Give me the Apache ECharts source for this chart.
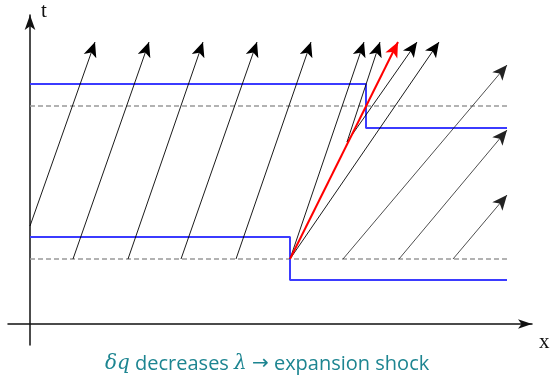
<!DOCTYPE html>
<html>
<head>
<meta charset="utf-8">
<script src="https://cdn.jsdelivr.net/npm/echarts@6/dist/echarts.min.js"></script>
<style>
  html, body { margin: 0; padding: 0; background: #fff; }
  #main { width: 550px; height: 376px; }
</style>
</head>
<body>
<div id="main"></div>
<script>
  // x along the axis, t upward; shock starts at x=260, t=65
  var upperState = [[0, 240], [336, 240], [336, 196], [477, 196]];
  var lowerState = [[0, 87], [260, 87], [260, 44], [477, 44]];
  var dashLevels = [218, 65];
  var dashEnd = 477;

  var leftChars = [
    [[0, 98], [65, 282]],
    [[43, 65], [119, 282]],
    [[98, 65], [173, 282]],
    [[151, 65], [227, 282]],
    [[206, 65], [281, 282]]
  ];
  var fanChars = [
    [[260, 65], [334, 282]],
    [[260, 65], [409, 282]],
    [[317, 182], [350, 282]],
    [[317, 182], [387, 282]]
  ];
  var shockPath = [[[260, 65], [368, 282]]];
  var rightChars = [
    [[313, 65], [477, 259]],
    [[369, 65], [477, 194]],
    [[423, 65], [477, 129]]
  ];

  var myChart = echarts.init(document.getElementById('main'));

  function arrows(name, list, color, width) {
    return {
      name: name,
      type: 'lines',
      coordinateSystem: 'cartesian2d',
      symbol: ['none', 'arrow'],
      symbolSize: [0, [10, 15]],
      symbolOffset: [0, [0, '50%']],
      lineStyle: { color: color, width: width, opacity: 1, curveness: 0 },
      silent: true,
      z: 3,
      data: list.map(function (c) { return { coords: c }; })
    };
  }

  var dashData = dashLevels.map(function (t) {
    return { coords: [[0, t], [dashEnd, t]] };
  });

  var option = {
    animation: false,
    grid: { left: 8, right: 18, top: 15, bottom: 31 },
    title: {
      text: '{i|δq} decreases {i|λ} {a|→} expansion shock',
      left: 100,
      top: 349,
      textStyle: {
        fontFamily: 'Open Sans',
        fontSize: 20,
        fontWeight: 'normal',
        color: '#1d8591',
        rich: {
          i: { fontFamily: 'DejaVu Serif', fontStyle: 'italic', fontSize: 20, color: '#1d8591' },
          a: { fontFamily: 'DejaVu Sans', fontSize: 20, color: '#1d8591' }
        }
      }
    },
    xAxis: {
      type: 'value',
      min: -22,
      max: 502,
      axisLine: {
        onZero: true,
        symbol: ['none', 'arrow'],
        symbolSize: [7, 14],
        lineStyle: { color: '#111', width: 1.5 }
      },
      axisTick: { show: false },
      axisLabel: { show: false },
      splitLine: { show: false }
    },
    yAxis: {
      type: 'value',
      min: -21,
      max: 309,
      axisLine: {
        onZero: true,
        symbol: ['none', 'arrow'],
        symbolSize: [8, 15],
        lineStyle: { color: '#111', width: 1.5 }
      },
      axisTick: { show: false },
      axisLabel: { show: false },
      splitLine: { show: false }
    },
    graphic: [
      { type: 'text', left: 41, top: 1, style: { text: 't', font: '21px "Liberation Serif"', fill: '#111' } },
      { type: 'text', left: 539, top: 332, style: { text: 'x', font: '21px "Liberation Serif"', fill: '#111' } }
    ],
    series: [
      {
        name: 'levels',
        type: 'lines',
        coordinateSystem: 'cartesian2d',
        lineStyle: { color: '#999', width: 1.5, type: [5, 3], opacity: 1 },
        silent: true,
        z: 1,
        data: dashData
      },
      {
        name: 'upper',
        type: 'line',
        data: upperState,
        showSymbol: false,
        lineStyle: { color: '#3b3bff', width: 2 },
        silent: true,
        z: 2
      },
      {
        name: 'lower',
        type: 'line',
        data: lowerState,
        showSymbol: false,
        lineStyle: { color: '#3b3bff', width: 2 },
        silent: true,
        z: 2
      },
      arrows('left', leftChars, '#000', 0.9),
      arrows('fan', fanChars, '#000', 0.9),
      arrows('right', rightChars, '#222', 0.8),
      arrows('shock', shockPath, '#ff0000', 2)
    ]
  };

  myChart.setOption(option);
</script>
</body>
</html>
